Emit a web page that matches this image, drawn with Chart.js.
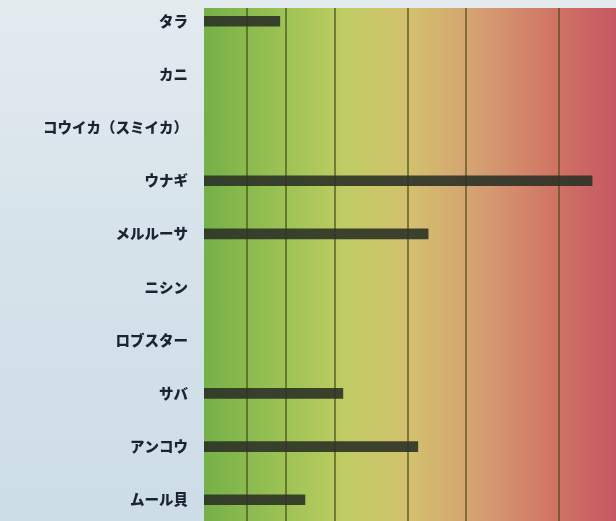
<!DOCTYPE html>
<html lang="ja">
<head>
<meta charset="utf-8">
<title>魚介類</title>
<script src="https://cdn.jsdelivr.net/npm/chart.js@4/dist/chart.umd.min.js"></script>
<style>
  html, body { margin: 0; padding: 0; background: #d6e3ea; overflow: hidden; }
  #wrap { position: relative; width: 616px; height: 521px; }
  canvas { display: block; }
</style>
</head>
<body>
<div id="wrap"><canvas id="c" width="616" height="521"></canvas></div>
<script>
// Species shown down the left side, top to bottom
const categories = ['タラ', 'カニ', 'コウイカ（スミイカ）', 'ウナギ', 'メルルーサ', 'ニシン', 'ロブスター', 'サバ', 'アンコウ', 'ムール貝'];
// Bar lengths (null = no bar drawn for that species)
const values = [18.4, null, null, 94.2, 54.4, null, null, 33.7, 51.9, 24.5];
// Positions of the vertical grid lines on the value axis
const gridTicks = [10.4, 19.9, 31.8, 49.5, 63.6, 86.2];
const axisMax = 100;

// Green → yellow → red band behind the plot, plus the pale page colour
const backdrop = {
  id: 'backdrop',
  beforeDraw(chart) {
    const { ctx, chartArea: a, width, height } = chart;
    ctx.save();
    const page = ctx.createLinearGradient(0, 0, 0, height);
    page.addColorStop(0, '#e3ebef');
    page.addColorStop(0.5, '#d5e2ea');
    page.addColorStop(1, '#cddde8');
    ctx.fillStyle = page;
    ctx.fillRect(0, 0, width, height);
    const g = ctx.createLinearGradient(a.left, 0, a.right, 0);
    g.addColorStop(0.00, 'rgb(116,176,72)');
    g.addColorStop(0.20, 'rgb(158,195,84)');
    g.addColorStop(0.35, 'rgb(193,204,100)');
    g.addColorStop(0.50, 'rgb(211,192,110)');
    g.addColorStop(0.68, 'rgb(213,156,113)');
    g.addColorStop(0.85, 'rgb(208,116,100)');
    g.addColorStop(1.00, 'rgb(198,88,98)');
    ctx.fillStyle = g;
    ctx.fillRect(a.left, a.top, a.right - a.left, a.bottom - a.top);
    ctx.restore();
  }
};

new Chart(document.getElementById('c'), {
  type: 'bar',
  data: {
    datasets: [{
      data: values.map((v, i) => ({ x: v, y: i })),
      backgroundColor: 'rgba(44,50,38,0.9)',
      borderWidth: 0,
      barThickness: 10
    }]
  },
  options: {
    indexAxis: 'y',
    responsive: false,
    animation: false,
    layout: { padding: { top: 8, left: 0, right: 0, bottom: 0 } },
    plugins: { legend: { display: false }, tooltip: { enabled: false } },
    scales: {
      x: {
        type: 'linear',
        min: 0,
        max: axisMax,
        afterBuildTicks(scale) { scale.ticks = gridTicks.map(v => ({ value: v })); },
        afterFit(scale) { scale.height = 0; },
        ticks: { display: false },
        border: { display: false },
        grid: { color: 'rgba(70,74,28,0.62)', lineWidth: 2, drawTicks: false }
      },
      y: {
        type: 'linear',
        reverse: true,
        offset: false,
        min: -0.25,
        max: 9.4,
        afterBuildTicks(scale) { scale.ticks = categories.map((_, i) => ({ value: i })); },
        afterFit(scale) { scale.width = 204; scale.paddingTop = 0; scale.paddingBottom = 0; },
        ticks: {
          padding: 8,
          color: '#1c2433',
          font: { family: '"Noto Sans CJK JP", sans-serif', size: 14.5, weight: 900 },
          callback: (v) => categories[v]
        },
        border: { display: false },
        grid: { display: false, offset: false }
      }
    }
  },
  plugins: [backdrop]
});
</script>
</body>
</html>
